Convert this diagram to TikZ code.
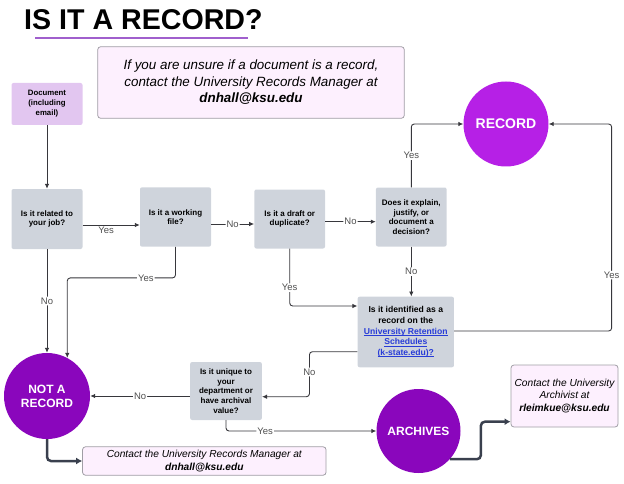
\documentclass[tikz,border=0pt]{standalone}
\usepackage{fontspec}
\setmainfont{Liberation Sans}
\usetikzlibrary{arrows.meta}
\definecolor{qgray}{RGB}{207,212,220}
\definecolor{docpurple}{RGB}{226,198,240}
\definecolor{infofill}{RGB}{253,240,254}
\definecolor{infodraw}{RGB}{160,158,165}
\definecolor{recpurple}{RGB}{182,32,230}
\definecolor{darkpurple}{RGB}{138,6,188}
\definecolor{linecol}{RGB}{55,55,60}
\definecolor{thickcol}{RGB}{58,64,78}
\definecolor{labcol}{RGB}{80,80,80}
\definecolor{ulcol}{RGB}{160,95,205}
\definecolor{linkblue}{RGB}{40,60,215}
\newcommand{\linkul}[1]{{\color{linkblue}\setbox0\hbox{#1}\rlap{\rule[-1.3pt]{\wd0}{0.55pt}}\box0}}
\begin{document}
\begin{tikzpicture}[x=1pt,y=-1pt,
  qbox/.style={fill=qgray, rounded corners=2pt, align=center, inner sep=0pt,
    font=\bfseries\fontsize{8}{9.7}\selectfont, text=black},
  docbox/.style={fill=docpurple, rounded corners=2pt, align=center, inner sep=0pt,
    font=\bfseries\fontsize{7.8}{10}\selectfont, text=black},
  infobox/.style={fill=infofill, draw=infodraw, line width=0.8pt, rounded corners=3pt,
    align=center, inner sep=0pt, text=black},
  endcirc/.style={circle, inner sep=0pt, text=white, align=center},
  conn/.style={draw=linecol, line width=0.9pt, rounded corners=3pt,
    -{Latex[length=5pt,width=4.5pt]}},
  thickarrow/.style={draw=thickcol, line width=2.5pt, rounded corners=4pt,
    -{Latex[length=6pt,width=7pt]}},
  lab/.style={font=\fontsize{9.5}{11}\selectfont, text=labcol, inner sep=1pt, fill=white}
]
\useasboundingbox (0,0) rectangle (624,484);

% title
\node[anchor=base west, inner sep=0pt, font=\bfseries\fontsize{28.6}{30}\selectfont] (title) at (24,30) {IS IT A RECORD?};
\draw[ulcol, line width=2pt] (35,38.5) -- (248,38.5);

% info boxes
\node[infobox, minimum width=306.6pt, minimum height=71.6pt,
  font=\itshape\fontsize{13.4}{16.5}\selectfont] (top) at (251,82.5)
  {If you are unsure if a document is a record,\\contact the University Records Manager at\\\textbf{dnhall@ksu.edu}};
\node[infobox, minimum width=243.5pt, minimum height=28.5pt,
  font=\itshape\fontsize{10.2}{12.7}\selectfont] (bbox) at (204.3,461)
  {Contact the University Records Manager at\\\textbf{dnhall@ksu.edu}};
\node[infobox, minimum width=107pt, minimum height=62pt,
  font=\itshape\fontsize{10.2}{12.5}\selectfont] (rbox) at (564.5,396)
  {Contact the University\\Archivist at\\\textbf{rleimkue@ksu.edu}};

% start
\node[docbox, minimum width=71pt, minimum height=42pt] (doc) at (47,104) {Document\\(including\\email)};

% questions
\node[qbox, minimum width=71pt, minimum height=60pt] (q1) at (47,219) {Is it related to\\your job?};
\node[qbox, minimum width=71pt, minimum height=59.4pt] (q2) at (175.5,217) {Is it a working\\file?};
\node[qbox, minimum width=70.7pt, minimum height=59pt] (q3) at (289.7,219) {Is it a draft or\\duplicate?};
\node[qbox, minimum width=70.7pt, minimum height=59pt] (q4) at (411.3,217) {Does it explain,\\justify, or\\document a\\decision?};
\node[qbox, minimum width=96.3pt, minimum height=70.6pt, font=\bfseries\fontsize{8.6}{10.7}\selectfont] (q5) at (405.8,332)
  {Is it identified as a\\record on the\\\linkul{University Retention}\\\linkul{Schedules}\\\linkul{(k-state.edu)?}};
\node[qbox, minimum width=71.7pt, minimum height=58pt] (q6) at (226,391) {Is it unique to\\your\\department or\\have archival\\value?};

% end circles
\node[endcirc, fill=recpurple, minimum size=85pt, font=\bfseries\fontsize{14}{16}\selectfont] (rec) at (506,124) {RECORD};
\node[endcirc, fill=darkpurple, minimum size=86pt, font=\bfseries\fontsize{12}{14}\selectfont] (nar) at (47,396) {NOT A\\RECORD};
\node[endcirc, fill=darkpurple, minimum size=84pt, font=\bfseries\fontsize{12}{14}\selectfont] (arch) at (418.5,431) {ARCHIVES};

% connectors
\draw[conn] (doc.south) -- (q1.north);
\draw[conn] ([yshift=-6pt]q1.east) -- node[lab, below=1pt, pos=0.41, fill=none]{Yes} ([yshift=-8pt]q2.west);
\draw[conn] ([yshift=-7pt]q2.east) -- node[lab]{No} ([yshift=-5pt]q3.west);
\draw[conn] ([yshift=-2.7pt]q3.east) -- node[lab]{No} ([yshift=-4.7pt]q4.west);
\draw[conn] (q4.north) |- node[lab, pos=0.25]{Yes} (rec.west);
\draw[conn] (q4.south) -- node[lab]{No} (q4.south |- q5.north);
\draw[conn] (q3.south) |- node[lab, pos=0.34]{Yes} ([yshift=26pt]q5.west);
\draw[conn] ([yshift=1pt]q5.east) -- ++(157.5,0) |- node[lab, pos=0.135]{Yes} (rec.east);
\draw[conn] ([yshift=-19.7pt]q5.west) -- ++(-48,0) |- node[lab, pos=0.225]{No} ([yshift=-5.7pt]q6.east);
\draw[conn] ([yshift=-5pt]q6.west) -- node[lab]{No} (nar.east);
\draw[conn] (q1.south) -- node[lab]{No} (nar.north);
\draw[conn] (q2.south) -- ++(0,31) -| node[lab, pos=0.137]{Yes} (nar.62);
\draw[conn] (q6.south) |- node[lab, pos=0.63]{Yes} (arch.west);

% thick arrows
\draw[thickarrow] (nar.south) |- (bbox.west);
\draw[thickarrow] (arch.-42) -- ++(31,0) |- ([yshift=-25.7pt]rbox.west);
\end{tikzpicture}
\end{document}
